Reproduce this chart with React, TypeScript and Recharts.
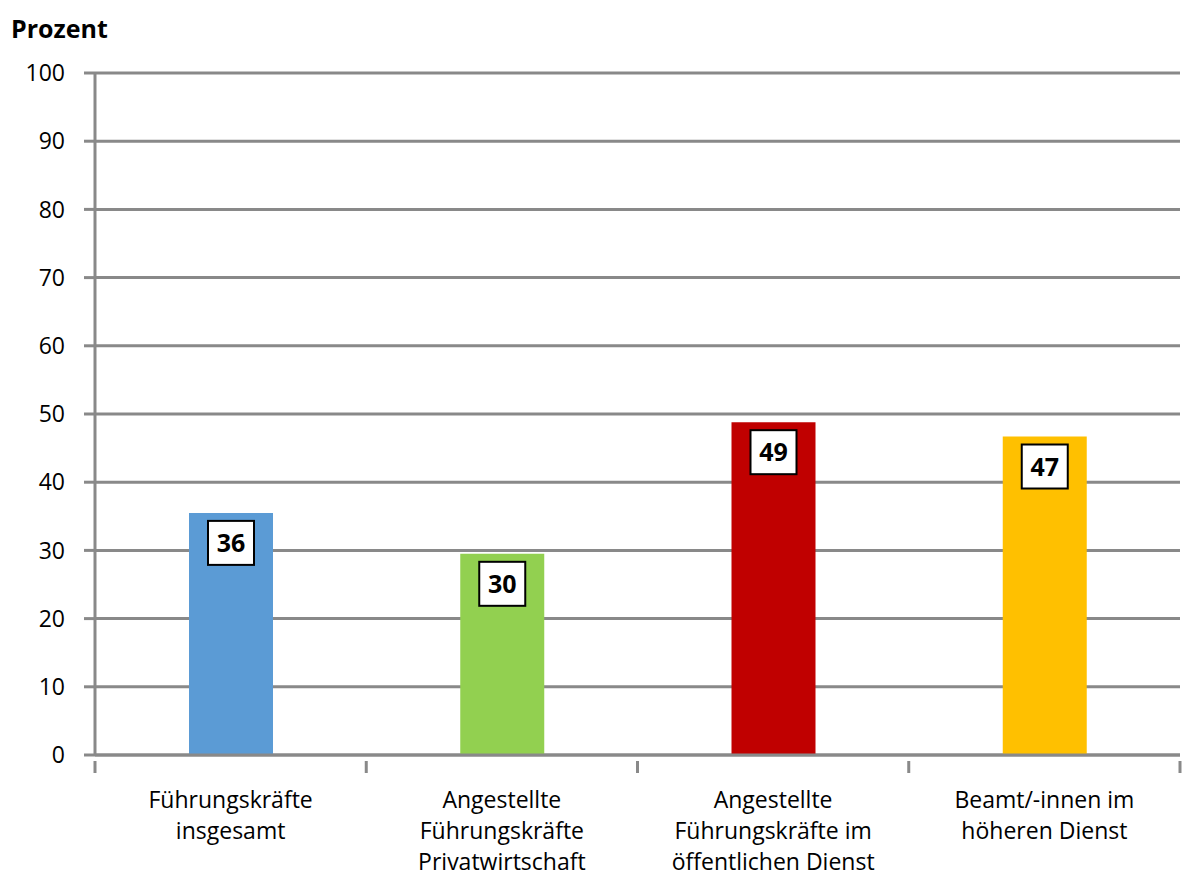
import React from "react";
import { BarChart, Bar, XAxis, YAxis, CartesianGrid, Cell, LabelList } from "recharts";

const categories = [
  "Führungskräfte\ninsgesamt",
  "Angestellte\nFührungskräfte\nPrivatwirtschaft",
  "Angestellte\nFührungskräfte im\nöffentlichen Dienst",
  "Beamt/-innen im\nhöheren Dienst",
];
const values = [35.5, 29.5, 48.8, 46.7];
const valueLabels = ["36", "30", "49", "47"];
const colors = ["#5B9BD5", "#92D050", "#C00000", "#FFC000"];
const yTicks = [0, 10, 20, 30, 40, 50, 60, 70, 80, 90, 100];
const yLabel = "Prozent";

const data = categories.map((c, i) => ({ name: c, value: values[i], label: valueLabels[i] }));

const FONT = "'Open Sans', sans-serif";
const GRID = "#898989";
const W = 1185;
const H = 878;
const M = { top: 73, right: 5, bottom: 0, left: 0 };
const XH = 123;
const YW = 95;
const BAND = (W - M.left - M.right - YW) / categories.length;

const XTick = (props: any) => {
  const { x, y, payload, index } = props;
  const lines = String(payload.value).split("\n");
  return (
    <g>
      <line x1={x - BAND / 2} x2={x - BAND / 2} y1={y - 2} y2={y + 10} stroke={GRID} strokeWidth={3} />
      {index === categories.length - 1 && (
        <line x1={x + BAND / 2} x2={x + BAND / 2} y1={y - 2} y2={y + 10} stroke={GRID} strokeWidth={3} />
      )}
      {lines.map((l, i) => (
        <text key={i} x={x} y={y + 45 + i * 31} textAnchor="middle" fontFamily={FONT} fontSize={23} fill="#000">
          {l}
        </text>
      ))}
    </g>
  );
};

const ValueLabel = (props: any) => {
  const { x, y, width, index } = props;
  const cx = x + width / 2;
  const top = y + 8;
  return (
    <g>
      <rect x={cx - 23} y={top} width={46} height={44} fill="#fff" stroke="#000" strokeWidth={2} />
      <text x={cx} y={top + 31} textAnchor="middle" fontFamily={FONT} fontWeight="bold" fontSize={25} fill="#000">
        {valueLabels[index]}
      </text>
    </g>
  );
};

export default function App() {
  return (
    <div style={{ position: "absolute", left: 0, top: 0, width: W, height: H, background: "#fff" }}>
      <div
        style={{
          position: "absolute",
          left: 11,
          top: 11,
          fontFamily: FONT,
          fontWeight: "bold",
          fontSize: 25,
          color: "#000",
          lineHeight: "34px",
        }}
      >
        {yLabel}
      </div>
      <BarChart width={W} height={H} data={data} margin={M}>
        <CartesianGrid horizontal={true} vertical={false} stroke={GRID} strokeWidth={3} />
        <XAxis
          dataKey="name"
          interval={0}
          tickLine={false}
          axisLine={{ stroke: GRID, strokeWidth: 3 }}
          tick={<XTick />}
          height={XH}
        />
        <YAxis
          domain={[0, 100]}
          ticks={yTicks}
          width={YW}
          tickSize={11}
          tickMargin={19}
          tickLine={{ stroke: GRID, strokeWidth: 3 }}
          axisLine={{ stroke: GRID, strokeWidth: 3 }}
          tick={{ fontFamily: FONT, fontSize: 23, fill: "#000" }}
        />
        <Bar dataKey="value" barSize={84} isAnimationActive={false}>
          {data.map((d, i) => (
            <Cell key={i} fill={colors[i]} />
          ))}
          <LabelList dataKey="label" content={<ValueLabel />} />
        </Bar>
      </BarChart>
    </div>
  );
}
